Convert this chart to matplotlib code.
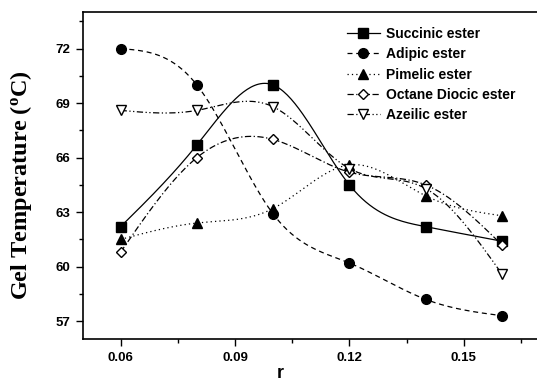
import numpy as np
import matplotlib
matplotlib.use("Agg")
import matplotlib.pyplot as plt
from matplotlib.ticker import MultipleLocator

r = [0.06, 0.08, 0.10, 0.12, 0.14, 0.16]
succinic = [62.2, 66.7, 70.0, 64.5, 62.2, 61.4]
adipic = [72.0, 70.0, 62.9, 60.2, 58.2, 57.3]
pimelic = [61.5, 62.4, 63.2, 65.6, 63.9, 62.8]
octane = [60.8, 66.0, 67.0, 65.2, 64.5, 61.2]
azeilic = [68.6, 68.6, 68.8, 65.4, 64.3, 59.6]

labels = ["Succinic ester", "Adipic ester", "Pimelic ester",
          "Octane Diocic ester", "Azeilic ester"]
xticks = [0.06, 0.09, 0.12, 0.15]
yticks = [57, 60, 63, 66, 69, 72]


def natural_spline(x, y, n=200):
    x = np.asarray(x, float)
    y = np.asarray(y, float)
    k = len(x)
    h = np.diff(x)
    A = np.zeros((k, k))
    b = np.zeros(k)
    A[0, 0] = 1
    A[-1, -1] = 1
    for i in range(1, k - 1):
        A[i, i - 1] = h[i - 1]
        A[i, i] = 2 * (h[i - 1] + h[i])
        A[i, i + 1] = h[i]
        b[i] = 3 * ((y[i + 1] - y[i]) / h[i] - (y[i] - y[i - 1]) / h[i - 1])
    c = np.linalg.solve(A, b)
    xs = np.linspace(x[0], x[-1], n)
    ys = np.empty_like(xs)
    for j, xv in enumerate(xs):
        i = min(np.searchsorted(x, xv, side="right") - 1, k - 2)
        dx = xv - x[i]
        bi = (y[i + 1] - y[i]) / h[i] - h[i] * (2 * c[i] + c[i + 1]) / 3
        di = (c[i + 1] - c[i]) / (3 * h[i])
        ys[j] = y[i] + bi * dx + c[i] * dx ** 2 + di * dx ** 3
    return xs, ys


plt.rcParams['mathtext.fontset'] = 'custom'
plt.rcParams['mathtext.rm'] = 'Liberation Serif:bold'
plt.rcParams['mathtext.bf'] = 'Liberation Serif:bold'
plt.rcParams['mathtext.it'] = 'Liberation Serif:bold'

fig = plt.figure(figsize=(5.37, 3.85), dpi=100)
ax = fig.add_axes([82.5 / 537, 45.7 / 385, (540 - 82.5) / 537, (372.7 - 45.7) / 385])

series = [succinic, adipic, pimelic, octane, azeilic]
styles = [
    dict(ls='-', marker='s', mfc='black', ms=6.5),
    dict(ls=(0, (4, 3)), marker='o', mfc='black', ms=7),
    dict(ls=(0, (1, 2.5)), marker='^', mfc='black', ms=7),
    dict(ls=(0, (5, 2, 1, 2)), marker='D', mfc='white', ms=5.5),
    dict(ls=(0, (5, 2, 1, 2, 1, 2)), marker='v', mfc='white', ms=7.5),
]

handles = []
for ys, st, lab in zip(series, styles, labels):
    xs_s, ys_s = natural_spline(r, ys)
    ax.plot(xs_s, ys_s, color='black', lw=0.9, ls=st['ls'])
    ax.plot(r, ys, ls='none', marker=st['marker'], mfc=st['mfc'], mec='black',
            ms=st['ms'], mew=1.0)
    h, = ax.plot([], [], color='black', lw=0.9, ls=st['ls'], marker=st['marker'],
                 mfc=st['mfc'], mec='black', ms=st['ms'], mew=1.0)
    handles.append(h)

ax.set_xlim(0.05, 0.17)
ax.set_ylim(56, 74)
ax.set_xticks(xticks)
ax.set_xticklabels([f"{v:.2f}" for v in xticks])
ax.set_yticks(yticks)
ax.xaxis.set_minor_locator(MultipleLocator(0.015))
ax.yaxis.set_minor_locator(MultipleLocator(1.5))
ax.tick_params(which='major', direction='out', length=5, width=1.0, pad=4)
ax.tick_params(which='minor', direction='out', length=3, width=1.0)
for lab in ax.get_xticklabels() + ax.get_yticklabels():
    lab.set_fontfamily('Liberation Sans')
    lab.set_fontweight('bold')
    lab.set_fontsize(9.5)
for s in ax.spines.values():
    s.set_linewidth(1.2)

ax.set_xlabel('r', fontfamily='Liberation Sans', fontweight='bold', fontsize=13)
ax.xaxis.set_label_coords((280 - 82.5) / 457.5, -0.08)
ax.set_ylabel(r'Gel Temperature ($^{o}$C)', fontfamily='Liberation Serif',
              fontweight='bold', fontsize=17.5)
ax.yaxis.set_label_coords(-0.105, 0.47)

leg = ax.legend(handles, labels, loc='upper left', bbox_to_anchor=(0.55, 0.993),
                frameon=False, handlelength=2.4, handletextpad=0.45,
                labelspacing=0.45, prop={'family': 'Liberation Sans', 'weight': 'bold', 'size': 10})

fig.savefig('out.png', dpi=100)
